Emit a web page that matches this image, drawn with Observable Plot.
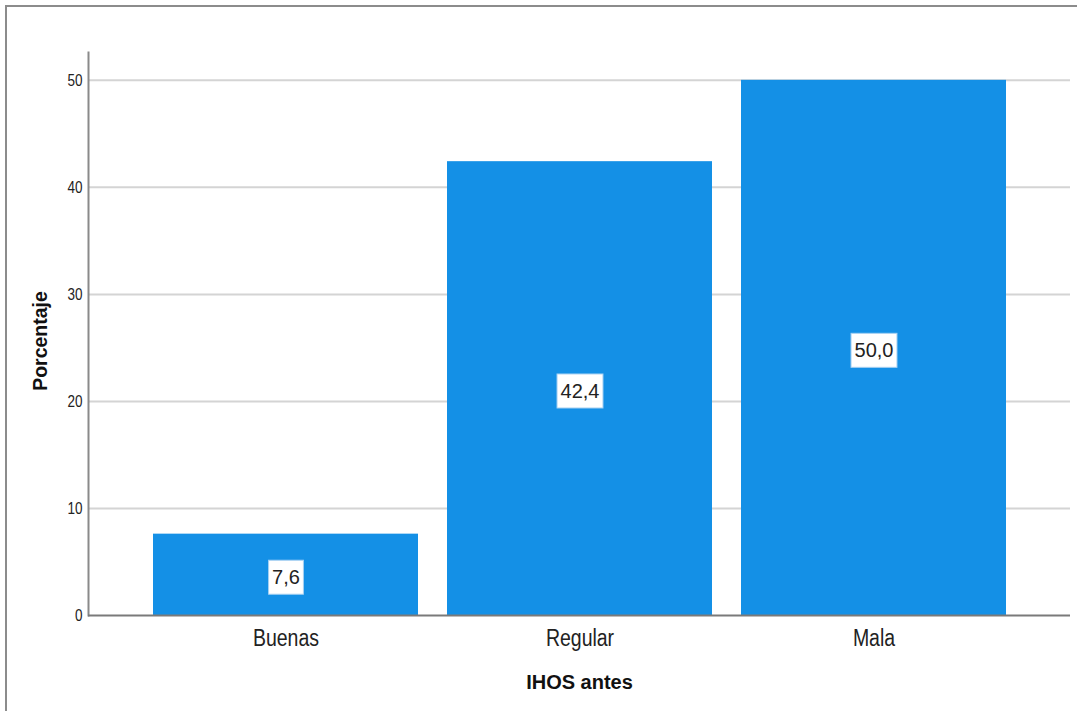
<!DOCTYPE html>
<html><head><meta charset="utf-8">
<script src="https://cdn.jsdelivr.net/npm/d3@7"></script>
<script src="https://cdn.jsdelivr.net/npm/@observablehq/plot@0.6"></script>
<style>
html,body{margin:0;padding:0;background:#fff;width:1077px;height:711px;overflow:hidden;}
#frame{position:absolute;left:5px;top:5px;width:1100px;height:760px;border:2px solid #8c8c8c;box-sizing:border-box;}
#chart{position:absolute;left:0;top:0;}
</style></head>
<body><div id="frame"></div><div id="chart"></div>
<script>
const categories = ["Buenas", "Regular", "Mala"];
const percentages = [7.6, 42.4, 50.0];
const yTicks = [0, 10, 20, 30, 40, 50];
const valueLabels = ["7,6", "42,4", "50,0"];

const data = categories.map((c, i) => ({cat: c, pct: percentages[i], label: valueLabels[i]}));
const font = "Liberation Sans, Arial, sans-serif";

const chart = Plot.plot({
  width: 1077, height: 711,
  marginLeft: 88, marginRight: 7, marginTop: 52, marginBottom: 96,
  style: {fontFamily: font, background: "transparent", overflow: "visible"},
  x: {domain: categories, range: [153, 1007], paddingInner: 0.0986, paddingOuter: 0, label: null},
  y: {domain: [0, 52.6], label: null},
  marks: [
    Plot.gridY(yTicks.filter(d => d > 0), {stroke: "#d4d4d4", strokeOpacity: 1, strokeWidth: 2}),
    Plot.barY(data, {x: "cat", y: "pct", fill: "#1490e6"}),
    Plot.frame({anchor: "left", stroke: "#8a8a8a", strokeWidth: 2}),
    Plot.ruleY([0], {stroke: "#7a7a7a", strokeWidth: 2}),
    Plot.axisY(yTicks, {tickSize: 0, tickPadding: 6, fontSize: 13.5, fill: "#222", label: null}),
    Plot.axisX({tickSize: 0, tickPadding: 13, fontSize: 19.5, fill: "#222", label: null}),
    Plot.text(data, {x: "cat", y: d => d.pct / 2, text: "label", fontSize: 20, fill: "#222", dy: 3, className: "vlabel"}),
    Plot.text(["Porcentaje"], {frameAnchor: "left", textAnchor: "middle", dx: -48, dy: 7, rotate: -90, fontSize: 19.5, fontWeight: "bold", fill: "#111"}),
    Plot.text(["IHOS antes"], {frameAnchor: "bottom", dy: 73, fontSize: 20, fontWeight: "bold", fill: "#111"})
  ]
});
document.getElementById("chart").appendChild(chart);

// vertically stretched axis labels, as in the reference
d3.select(chart).selectAll('g[aria-label="x-axis tick label"] text').each(function() {
  const t = this.getAttribute("transform") || "";
  this.setAttribute("transform", t + " scale(1,1.27)");
});
d3.select(chart).selectAll('g[aria-label="y-axis tick label"] text').each(function() {
  const t = this.getAttribute("transform") || "";
  this.setAttribute("transform", t + " scale(1,1.2)");
});

// white boxes behind the value labels
d3.select(chart).selectAll("g.vlabel text").each(function() {
  const b = this.getBBox();
  const t = this.getAttribute("transform");
  const r = document.createElementNS("http://www.w3.org/2000/svg", "rect");
  r.setAttribute("x", b.x - 3.5); r.setAttribute("y", b.y - 6);
  r.setAttribute("width", b.width + 7); r.setAttribute("height", b.height + 12);
  r.setAttribute("fill", "#fff"); r.setAttribute("stroke", "#a8d1f2"); r.setAttribute("stroke-width", 1);
  if (t) r.setAttribute("transform", t);
  this.parentNode.insertBefore(r, this);
});
</script></body></html>
